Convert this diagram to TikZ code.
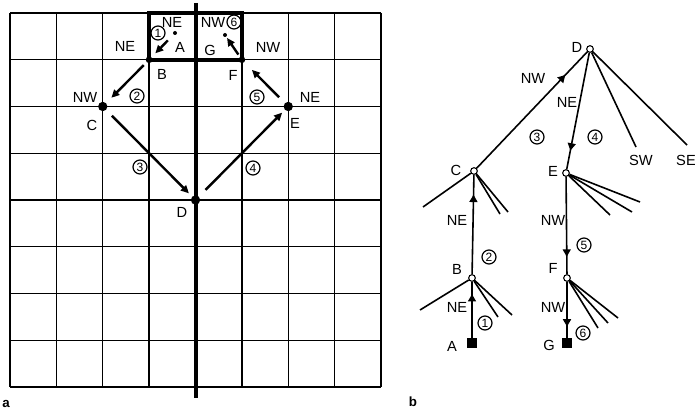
\documentclass[tikz,border=0pt]{standalone}
\usepackage{fontspec}
\setmainfont{Liberation Sans}
\usetikzlibrary{arrows.meta,decorations.markings}
\begin{document}
\begin{tikzpicture}[x=0.75pt,y=-0.75pt,
  lbl/.style={font=\fontsize{11}{12}\selectfont, inner sep=0pt},
  num/.style={circle, draw, line width=0.9pt, inner sep=0pt, minimum size=10.5pt, font=\fontsize{9}{10}\selectfont},
  gdot/.style={circle, fill, inner sep=0pt, minimum size=7pt},
  bdot/.style={circle, fill, inner sep=0pt, minimum size=5pt},
  sdot/.style={circle, fill, inner sep=0pt, minimum size=3pt},
  gridline/.style={line width=1.1pt},
  garrow/.style={line width=1.8pt, -{Triangle[length=6pt,width=5.5pt]}},
  onode/.style={circle, draw, fill=white, line width=0.8pt, inner sep=0pt, minimum size=5pt},
  sqnode/.style={rectangle, fill, inner sep=0pt, minimum size=7.5pt},
  tedge/.style={line width=1.2pt},
  fwdmark/.style={postaction={decorate}, decoration={markings, mark=at position #1 with {\arrow{Triangle[length=5.5pt,width=6pt]}}}},
  revmark/.style={postaction={decorate}, decoration={markings, mark=at position #1 with {\arrowreversed{Triangle[length=5.5pt,width=6pt]}}}},
  panel/.style={font=\bfseries\fontsize{10}{12}\selectfont, inner sep=0pt}
]
\useasboundingbox (0,0) rectangle (695,413);

% ---------- panel a: grid ----------
\foreach \i in {0,1,2,3,5,6,7,8} {
  \draw[gridline] ({10+46.375*\i},13) -- ({10+46.375*\i},387);
}
\foreach \j in {0,...,8} {
  \draw[gridline] (10,{13+46.75*\j}) -- (381,{13+46.75*\j});
}
\draw[line width=3pt] (195.5,3) -- (195.5,398);
\draw[line width=3pt] (149.1,13) rectangle (241.9,59.75);

\node[sdot] (gA) at (175,33) {};
\node[sdot] (gG) at (225,35) {};
\node[bdot] (gB) at (149.1,59.75) {};
\node[bdot] (gF) at (241.9,59.75) {};
\node[gdot] (gC) at (102.75,106.5) {};
\node[gdot] (gE) at (288.25,106.5) {};
\node[gdot] (gD) at (195.5,200) {};

\draw[garrow, shorten <=6pt, shorten >=4pt] (gA) -- (gB);
\draw[garrow, shorten <=2pt, shorten >=1pt] (gF) -- (gG);
\draw[garrow, shorten <=3pt, shorten >=5.5pt] (gB) -- (gC);
\draw[garrow, shorten <=6pt, shorten >=3.3pt] (gC) -- (gD);
\draw[garrow, shorten <=7pt, shorten >=2.8pt] (gD) -- (gE);
\draw[garrow, shorten <=6pt, shorten >=8pt] (gE) -- (gF);

\node[lbl] (aNE1) at (172,22) {NE};
\node[num] (a1) at (158,33) {1};
\node[lbl] (aA) at (180,47) {A};
\node[lbl] (aNW6) at (213,22) {NW};
\node[num] (a6) at (234,22) {6};
\node[lbl] (aG) at (210,50) {G};
\node[lbl] (aNEB) at (125,46) {NE};
\node[lbl] (aNWF) at (268,47) {NW};
\node[lbl] (aB) at (162,74) {B};
\node[lbl] (aF) at (233,75) {F};
\node[lbl] (aNWC) at (85,97) {NW};
\node[num] (a2) at (137,96) {2};
\node[lbl] (aC) at (92,125) {C};
\node[num] (a5) at (257,97) {5};
\node[lbl] (aNEE) at (310,97) {NE};
\node[lbl] (aE) at (295,123) {E};
\node[num] (a3) at (140,167) {3};
\node[num] (a4) at (253,168) {4};
\node[lbl] (aD) at (182,212) {D};
\node[panel] (pa) at (6,404) {a};

% ---------- panel b: tree ----------
\node[onode] (tD) at (590,49) {};
\node[onode] (tC) at (474,171) {};
\node[onode] (tE) at (566,173) {};
\node[onode] (tB) at (472,278) {};
\node[onode] (tF) at (567,278) {};
\node[sqnode] (tA) at (472,343) {};
\node[sqnode] (tG) at (567,343) {};

\coordinate (dSW) at (636,147);
\coordinate (dSE) at (687,145);
\coordinate (c1) at (423,207);
\coordinate (c2) at (500,214);
\coordinate (c3) at (508,212);
\coordinate (e1) at (640,202);
\coordinate (e2) at (632,212);
\coordinate (e3) at (610,215);
\coordinate (b1) at (420,310);
\coordinate (b2) at (498,317);
\coordinate (b3) at (512,315);
\coordinate (f1) at (618,318);
\coordinate (f2) at (608,323);
\coordinate (f3) at (598,328);

\draw[tedge, revmark=0.2] (tD) -- (tC);
\draw[tedge, fwdmark=0.84] (tD) -- (tE);
\draw[tedge] (tD) -- (dSW);
\draw[tedge] (tD) -- (dSE);
\draw[tedge, revmark=0.2] (tC) -- (tB);
\draw[tedge, revmark=0.22] (tB) -- (tA);
\draw[tedge, fwdmark=0.82] (tE) -- (tF);
\draw[tedge, fwdmark=0.8] (tF) -- (tG);
\foreach \p in {c1,c2,c3} \draw[tedge] (tC) -- (\p);
\foreach \p in {e1,e2,e3} \draw[tedge] (tE) -- (\p);
\foreach \p in {b1,b2,b3} \draw[tedge] (tB) -- (\p);
\foreach \p in {f1,f2,f3} \draw[tedge] (tF) -- (\p);

\node[lbl] (bD) at (577,47) {D};
\node[lbl] (bNW) at (533,78) {NW};
\node[lbl] (bNE) at (567,102) {NE};
\node[num] (b3n) at (537,137) {3};
\node[num] (b4n) at (595,137) {4};
\node[lbl] (bSW) at (641,160) {SW};
\node[lbl] (bSE) at (686,160) {SE};
\node[lbl] (bC) at (456,170) {C};
\node[lbl] (bE) at (553,171) {E};
\node[lbl] (bNEC) at (457,220) {NE};
\node[num] (b2n) at (489,257) {2};
\node[lbl] (bB) at (457,269) {B};
\node[lbl] (bNEB) at (457,307) {NE};
\node[num] (b1n) at (485,323) {1};
\node[lbl] (bA) at (452,346) {A};
\node[lbl] (bNWE) at (553,220) {NW};
\node[num] (b5n) at (584,245) {5};
\node[lbl] (bF) at (553,268) {F};
\node[lbl] (bNWF) at (553,307) {NW};
\node[num] (b6n) at (583,333) {6};
\node[lbl] (bG) at (549,345) {G};
\node[panel] (pb) at (413,402) {b};
\end{tikzpicture}
\end{document}
